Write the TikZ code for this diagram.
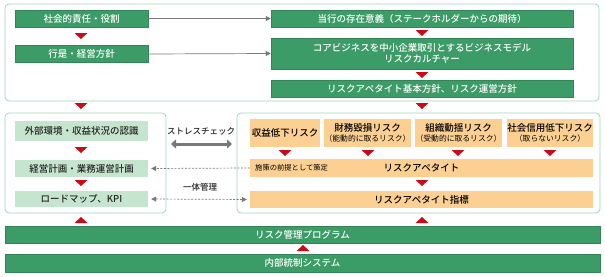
\documentclass[tikz,border=0pt]{standalone}
\usepackage{fontspec}
\setmainfont{Noto Sans CJK JP}[BoldFont={Noto Sans CJK JP Medium}]
\usetikzlibrary{arrows.meta}
\definecolor{bargreen}{RGB}{60,156,103}
\definecolor{palegreen}{RGB}{198,229,206}
\definecolor{framegreen}{RGB}{165,212,184}
\definecolor{riskorange}{RGB}{251,208,146}
\definecolor{markred}{RGB}{204,10,22}
\definecolor{arrowgray}{RGB}{120,120,120}
\tikzset{
  greenbox/.style={fill=bargreen, draw=bargreen!85!black, line width=0.5pt, text=white,
    inner sep=0pt, align=center, font=\fontsize{9.5}{11.5}\selectfont\bfseries},
  palebox/.style={fill=palegreen, inner sep=0pt, align=center, text=black!85,
    font=\fontsize{9.5}{11.5}\selectfont\bfseries},
  riskbox/.style={fill=riskorange, inner sep=0pt, align=center, text=black,
    font=\fontsize{9.5}{11.5}\selectfont\bfseries},
  framebox/.style={draw=framegreen, line width=0.8pt, rounded corners=4pt, fill=white,
    inner sep=0pt},
  redmark/.style={fill=markred},
  flowarrow/.style={draw=arrowgray, line width=0.7pt, -{Triangle[length=5pt,width=5pt]}},
  stressarrow/.style={draw=arrowgray, line width=3pt,
    {Triangle[length=5pt,width=9pt]}-{Triangle[length=5pt,width=9pt]}},
  linkarrow/.style={draw=arrowgray, line width=0.7pt, dash pattern=on 2pt off 1.5pt,
    -{Triangle[length=5pt,width=5pt]}},
  smalltext/.style={font=\fontsize{7.3}{9}\selectfont, inner sep=0pt}
}
\begin{document}
\begin{tikzpicture}[x=1pt,y=-1pt]
  \useasboundingbox (0,0) rectangle (605,276);

  % top frame
  \node[framebox, minimum width=594pt, minimum height=97pt] (topframe) at (302,52.5) {};
  \node[greenbox, minimum width=133pt, minimum height=17pt] (duty) at (81.5,18.5) {社会的責任・役割};
  \node[greenbox, minimum width=133pt, minimum height=17pt] (creed) at (81.5,54) {行是・経営方針};
  \node[greenbox, minimum width=302pt, minimum height=17pt] (purpose) at (422,18.5) {当行の存在意義（ステークホルダーからの期待）};
  \node[greenbox, minimum width=302pt, minimum height=31pt] (model) at (422,53.5) {コアビジネスを中小企業取引とするビジネスモデル\\リスクカルチャー};
  \node[greenbox, minimum width=302pt, minimum height=17pt] (policy) at (422,88.5) {リスクアペタイト基本方針、リスク運営方針};

  \draw[flowarrow] (duty.east) -- (purpose.west);
  \draw[flowarrow] (creed.east) -- (model.west);

  % middle frames
  \node[framebox, minimum width=161pt, minimum height=100pt] (planframe) at (85.5,163) {};
  \node[framebox, minimum width=363pt, minimum height=100pt] (riskframe) at (418.5,163) {};

  \node[palebox, minimum width=133pt, minimum height=20pt] (environ) at (81.5,131) {外部環境・収益状況の認識};
  \node[palebox, minimum width=133pt, minimum height=17pt] (plan) at (81.5,168.5) {経営計画・業務運営計画};
  \node[palebox, minimum width=133pt, minimum height=16pt] (roadmap) at (81.5,199) {ロードマップ、KPI};

  \node[riskbox, minimum width=70pt, minimum height=28pt] (earn) at (285,133) {収益低下リスク};
  \node[riskbox, minimum width=87pt, minimum height=28pt] (finance) at (367.5,133) {財務毀損リスク\\[-1pt]{\fontsize{7.8}{9}\selectfont\mdseries （能動的に取るリスク）}};
  \node[riskbox, minimum width=87pt, minimum height=28pt] (organ) at (458.5,133) {組織動揺リスク\\[-1pt]{\fontsize{7.8}{9}\selectfont\mdseries （受動的に取るリスク）}};
  \node[riskbox, minimum width=86pt, minimum height=28pt] (trust) at (550,133) {社会信用低下リスク\\[-1pt]{\fontsize{7.8}{9}\selectfont\mdseries （取らないリスク）}};
  \node[riskbox, minimum width=343pt, minimum height=18pt] (appetite) at (421.5,168) {リスクアペタイト};
  \node[smalltext, anchor=west] (premise) at (255,168) {施策の前提として策定};
  \node[riskbox, minimum width=343pt, minimum height=17pt] (indicator) at (421.5,199.5) {リスクアペタイト指標};

  \coordinate (stressL) at (171,144);
  \coordinate (stressR) at (232,144);
  \draw[stressarrow] (stressL) -- (stressR);
  \node[font=\fontsize{8.5}{10}\selectfont\bfseries, text=black!85] (stresslabel) at (201,131) {ストレスチェック};
  \draw[linkarrow, shorten >=3pt] (appetite.west) -- (plan.east);
  \draw[linkarrow, {Triangle[length=5pt,width=5pt]}-{Triangle[length=5pt,width=5pt]}, shorten >=3pt, shorten <=3pt] (roadmap.east) -- (indicator.west);
  \node[font=\fontsize{8.5}{10}\selectfont\bfseries, text=black!85] (unitylabel) at (200,187) {一体管理};

  % bottom bars
  \node[greenbox, minimum width=595pt, minimum height=17pt] (program) at (302.5,234.5) {リスク管理プログラム};
  \node[greenbox, minimum width=595pt, minimum height=18pt] (control) at (302.5,263) {内部統制システム};

  % red markers
  \foreach \x/\y in {81/33, 422/30, 422/72, 81/103, 422/103, 81/147, 81/180, 285/150, 368/150, 458/150, 550/150, 422/180}
    \fill[redmark] (\x-6.5,\y) -- (\x+6.5,\y) -- (\x,\y+6) -- cycle;
  \foreach \x/\y in {81/223, 422/223, 303/251}
    \fill[redmark] (\x-6.5,\y) -- (\x+6.5,\y) -- (\x,\y-6) -- cycle;
\end{tikzpicture}
\end{document}
